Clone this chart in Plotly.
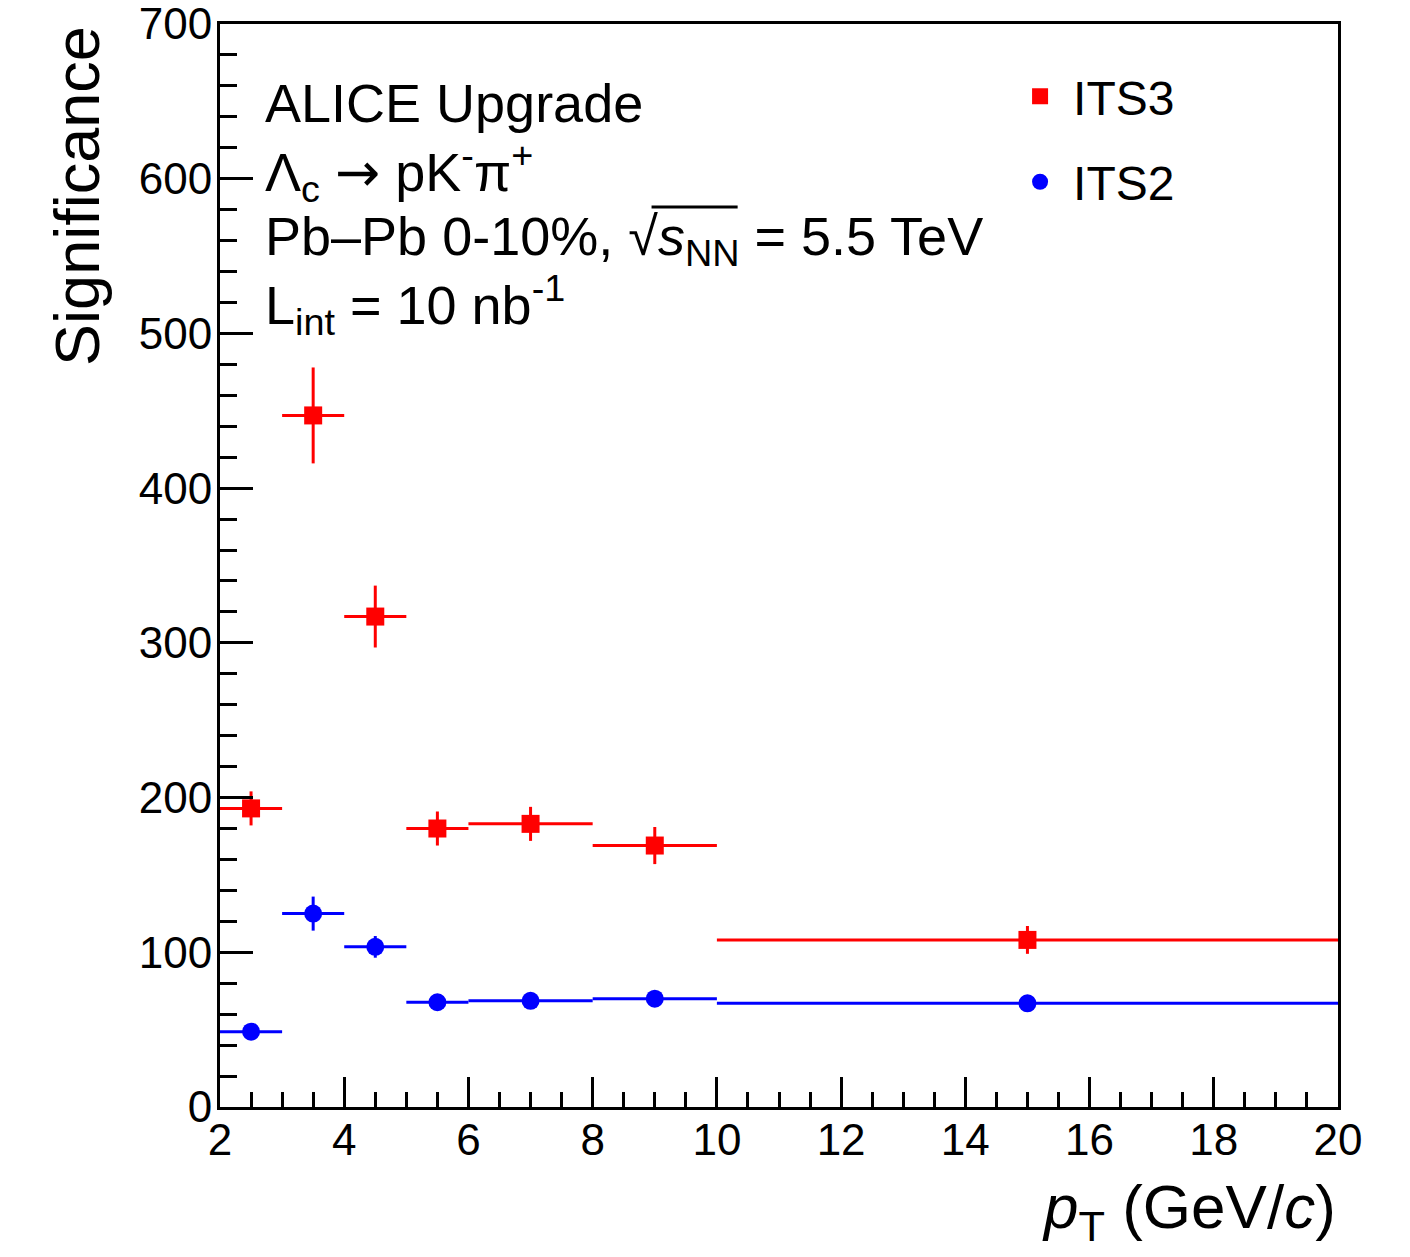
import plotly.graph_objects as go

# ---- data ----
bin_lo = [2, 3, 4, 5, 6, 8, 10]
bin_hi = [3, 4, 5, 6, 8, 10, 20]
pt_center = [2.5, 3.5, 4.5, 5.5, 7.0, 9.0, 15.0]

its3_sig = [193, 447, 317, 180, 183, 169, 108]
its3_err = [11, 31, 20, 11, 11, 12, 9]

its2_sig = [48.7, 125, 103.5, 67.7, 68.6, 70, 67]
its2_err = [3, 11, 7, 3, 3, 3, 3]

x_half = [(h - l) / 2 for l, h in zip(bin_lo, bin_hi)]

FONT = "Liberation Sans, Arial, Helvetica, sans-serif"

fig = go.Figure()

fig.add_trace(go.Scatter(
    x=pt_center, y=its3_sig, mode="markers", name="ITS3", legendgroup="a",
    marker=dict(symbol="square", size=18, color="#ff0000"),
    error_x=dict(type="data", array=x_half, width=0, thickness=3, color="#ff0000"),
    error_y=dict(type="data", array=its3_err, width=0, thickness=3, color="#ff0000"),
))
fig.add_trace(go.Scatter(
    x=pt_center, y=its2_sig, mode="markers", name="ITS2", legendgroup="b",
    marker=dict(symbol="circle", size=18, color="#0000ff"),
    error_x=dict(type="data", array=x_half, width=0, thickness=3, color="#0000ff"),
    error_y=dict(type="data", array=its2_err, width=0, thickness=3, color="#0000ff"),
))

axis_common = dict(
    ticks="inside", tickwidth=2.5, tickcolor="black",
    showline=True, mirror=True, linewidth=3, linecolor="black",
    showgrid=False, zeroline=False, automargin=False,
    ticklabeloverflow="allow",
    tickfont=dict(family=FONT, size=44, color="black"),
)
fig.update_xaxes(
    range=[2, 20], tickmode="linear", tick0=2, dtick=2, ticklen=30,
    minor=dict(dtick=0.5, ticks="inside", ticklen=15, tickwidth=2.5, tickcolor="black"),
    **axis_common,
)
fig.update_yaxes(
    range=[0, 700], tickmode="linear", tick0=0, dtick=100, ticklen=33,
    minor=dict(dtick=20, ticks="inside", ticklen=17, tickwidth=2.5, tickcolor="black"),
    **axis_common,
)
try:
    fig.update_xaxes(ticklabelstandoff=-8)
    fig.update_yaxes(ticklabelstandoff=-4)
except Exception:
    pass

fs = 54
anns = [
    dict(text="ALICE Upgrade", y=0.927),
    dict(text="Λ<sub>c</sub> <span style=\"font-family:DejaVu Sans\">→</span> pK<sup>-</sup>π<sup>+</sup>", y=0.863),
    dict(text="Pb–Pb 0-10%, √<i>s</i><sub>NN</sub> = 5.5 TeV", y=0.8006),
    dict(text="L<sub>int</sub> = 10 nb<sup>-1</sup>", y=0.7405),
]
for a in anns:
    fig.add_annotation(text=a["text"], x=0.0385, y=a["y"], xref="paper", yref="paper",
                       xanchor="left", yanchor="middle", showarrow=False,
                       font=dict(family=FONT, size=fs, color="black"))

# sqrt overline
fig.add_shape(type="line", xref="paper", yref="paper", x0=0.386, x1=0.463, y0=0.831, y1=0.831,
              line=dict(color="black", width=3))

# axis titles
fig.add_annotation(text="Significance", textangle=-90, x=-0.128, y=1.0, xref="paper", yref="paper",
                   xanchor="center", yanchor="top", showarrow=False,
                   font=dict(family=FONT, size=63, color="black"))
fig.add_annotation(text="<i>p</i><sub>T</sub> (GeV/<i>c</i>)", x=1.0, y=-0.058, xref="paper", yref="paper",
                   xanchor="right", yanchor="top", showarrow=False,
                   font=dict(family=FONT, size=62, color="black"))

fig.update_layout(
    width=1394, height=1241,
    margin=dict(l=212, r=64, t=16, b=142, autoexpand=False),
    paper_bgcolor="white", plot_bgcolor="white",
    showlegend=True,
    legend=dict(x=0.704, y=0.968, xanchor="left", yanchor="top", bgcolor="rgba(0,0,0,0)",
                itemwidth=56,
                font=dict(family=FONT, size=48, color="black"), tracegroupgap=20),
)

fig.write_html("out.html")
